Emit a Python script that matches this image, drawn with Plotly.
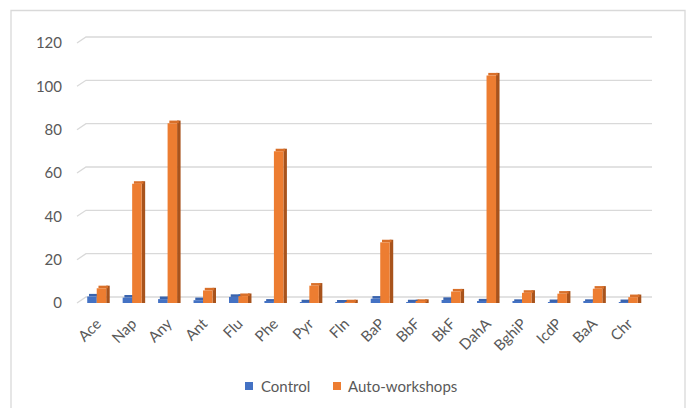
import plotly.graph_objects as go

categories = ["Ace", "Nap", "Any", "Ant", "Flu", "Phe", "Pyr", "Fln", "BaP", "BbF",
              "BkF", "DahA", "BghiP", "IcdP", "BaA", "Chr"]
control = [3.0, 2.5, 1.8, 1.3, 2.8, 0.6, 0.3, 0.2, 2.0, 0.3, 1.4, 0.7, 0.5, 0.4, 0.5, 0.4]
auto_workshops = [6.8, 55, 83, 5.8, 3.2, 70, 8, 0.3, 28, 0.5, 5.3, 105, 4.7, 4.3, 6.6, 2.7]
y_ticks = [0, 20, 40, 60, 80, 100, 120]
series_names = ["Control", "Auto-workshops"]

W, H = 689, 408
ML, MR, MT, MB = 79, 43, 43, 105
plot_w = W - ML - MR
plot_h = H - MT - MB
y_min, y_max = 0, 120
px_per_unit = plot_h / (y_max - y_min)

font_family = "Lato, 'Open Sans', sans-serif"
text_color = "#595959"


def px_x(px):
    return (px - ML) / plot_w


def px_y(py):
    return (H - MB - py) / plot_h


cat_px = plot_w / len(categories)
w_front = 9.5 / cat_px
w_side = 3.5 / cat_px
depth = 2.6 / px_per_unit

series = [
    (series_names[0], control, "#4472C4", "#3A64AE", "#2F528F", -w_front),
    (series_names[1], auto_workshops, "#ED7D31", "#D9702A", "#A8531C", 0.0),
]

fig = go.Figure()
for name, vals, c_front, c_top, c_side, off in series:
    # side face
    fig.add_trace(go.Bar(
        x=categories, y=[v + depth for v in vals], base=0,
        width=w_side, offset=off + w_front,
        marker=dict(color=c_side, line=dict(width=0)),
        showlegend=False, hoverinfo="skip"))
    # top face
    fig.add_trace(go.Bar(
        x=categories, y=[depth] * len(vals), base=vals,
        width=w_front, offset=off + w_side / 2,
        marker=dict(color=c_top, line=dict(width=0)),
        showlegend=False, hoverinfo="skip"))
    # front face
    fig.add_trace(go.Bar(
        x=categories, y=vals, base=0,
        width=w_front, offset=off,
        marker=dict(color=c_front, line=dict(width=0)),
        name=name, showlegend=False))

# gridlines with 3D floor slant
shapes = []
rise = 6 / plot_h
for t in y_ticks:
    yp = (t - y_min) / (y_max - y_min)
    shapes.append(dict(
        type="path", xref="paper", yref="paper", layer="below",
        path=f"M {px_x(77)},{yp} L {px_x(86)},{yp + rise} L {px_x(652)},{yp + rise}",
        line=dict(color="#D9D9D9", width=1.3)))

# chart border
shapes.append(dict(
    type="rect", xref="paper", yref="paper", layer="below",
    x0=px_x(11), x1=px_x(685), y0=px_y(430), y1=px_y(10.5),
    line=dict(color="#D9D9D9", width=1.3), fillcolor="rgba(0,0,0,0)"))

# legend (squares + text)
annotations = []
legend_items = [(series_names[0], "#4472C4", 245, 259),
                (series_names[1], "#ED7D31", 333, 346)]
for name, col, sq_x, tx_x in legend_items:
    shapes.append(dict(
        type="rect", xref="paper", yref="paper",
        x0=px_x(sq_x), x1=px_x(sq_x + 8), y0=px_y(390), y1=px_y(382),
        line=dict(width=0), fillcolor=col))
    annotations.append(dict(
        text=name, xref="paper", yref="paper", x=px_x(tx_x), y=px_y(386),
        xanchor="left", yanchor="middle", showarrow=False,
        font=dict(size=15, color=text_color, family=font_family)))

fig.update_layout(
    width=W, height=H,
    margin=dict(l=ML, r=MR, t=MT, b=MB),
    paper_bgcolor="white", plot_bgcolor="white",
    barmode="overlay",
    font=dict(family=font_family, size=15, color=text_color),
    shapes=shapes,
    annotations=annotations,
    showlegend=False,
    xaxis=dict(type="category", categoryorder="array", categoryarray=categories,
               tickangle=-45, showgrid=False, showline=False, zeroline=False,
               ticks="", automargin=False, ticklabelstandoff=8,
               tickfont=dict(size=15, color=text_color)),
    yaxis=dict(range=[y_min, y_max], tickvals=y_ticks, showgrid=False,
               zeroline=False, showline=False, ticks="", automargin=False,
               ticklabelstandoff=16,
               tickfont=dict(size=15, color=text_color)),
)

fig.write_html("out.html")
